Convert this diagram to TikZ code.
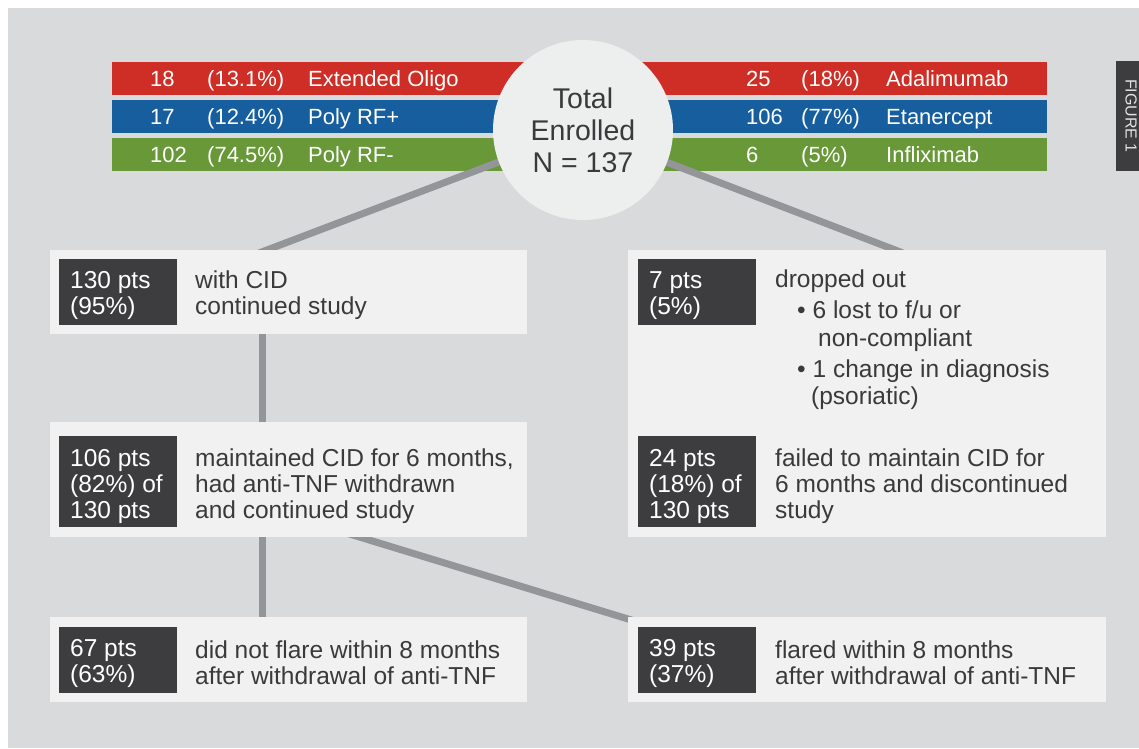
\documentclass[tikz,border=0pt]{standalone}
\usepackage{fontspec}
\setmainfont{Liberation Sans}
\definecolor{bgray}{RGB}{217,218,219}
\definecolor{boxfill}{RGB}{241,241,241}
\definecolor{darkbox}{RGB}{61,61,63}
\definecolor{cred}{RGB}{206,46,38}
\definecolor{cblue}{RGB}{22,94,158}
\definecolor{cgreen}{RGB}{104,152,56}
\definecolor{lineg}{RGB}{147,149,152}
\definecolor{txt}{RGB}{58,58,60}
\definecolor{circfill}{RGB}{237,238,238}
\pgfdeclarelayer{bg}
\pgfdeclarelayer{lines}
\pgfsetlayers{bg,lines,main}
\begin{document}
\begin{tikzpicture}[x=1pt,y=-1pt,
  bartext/.style={text=white,inner sep=0,anchor=base west,font=\fontsize{22}{26}\selectfont},
  lbox/.style={fill=boxfill,inner sep=0,outer sep=0,anchor=north west},
  dbox/.style={fill=darkbox,inner sep=0,outer sep=0,minimum width=118,anchor=north west},
  dtext/.style={text=white,inner sep=0,align=left,anchor=west,font=\fontsize{24.5}{26}\selectfont},
  mtext/.style={text=txt,inner sep=0,align=left,anchor=west,font=\fontsize{24.5}{26.3}\selectfont},
  ltext/.style={text=txt,inner sep=0,anchor=base west,font=\fontsize{24.5}{27}\selectfont},
  conn/.style={draw=lineg,line width=7pt}]
\useasboundingbox (0,0) rectangle (1139,748);
\begin{pgfonlayer}{bg}
\fill[white] (0,0) rectangle (1139,748);
\fill[bgray] (8,8) rectangle (1139,748);
\fill[cred] (112,62) rectangle (1047,95);
\fill[cblue] (112,99.5) rectangle (1047,133);
\fill[cgreen] (112,138) rectangle (1047,171);
\end{pgfonlayer}
% bar texts
\node[bartext] (r1) at (150,86) {18};
\node[bartext] (r2) at (207,86) {(13.1\%)};
\node[bartext] (r3) at (308,86) {Extended Oligo};
\node[bartext] (s1) at (150,124) {17};
\node[bartext] (s2) at (207,124) {(12.4\%)};
\node[bartext] (s3) at (308,124) {Poly RF+};
\node[bartext] (t1) at (150,162) {102};
\node[bartext] (t2) at (207,162) {(74.5\%)};
\node[bartext] (t3) at (308,162) {Poly RF-};
\node[bartext] (u1) at (746,86) {25};
\node[bartext] (u2) at (801,86) {(18\%)};
\node[bartext] (u3) at (886,86) {Adalimumab};
\node[bartext] (v1) at (746,124) {106};
\node[bartext] (v2) at (801,124) {(77\%)};
\node[bartext] (v3) at (886,124) {Etanercept};
\node[bartext] (w1) at (746,162) {6};
\node[bartext] (w2) at (801,162) {(5\%)};
\node[bartext] (w3) at (886,162) {Infliximab};
% circle
\node[circle,fill=circfill,minimum size=180,inner sep=0,text=txt,align=center,font=\fontsize{28.5}{32}\selectfont] (tot) at (583,130) {Total\\Enrolled\\N = 137};
% boxes
\node[lbox,minimum width=477,minimum height=84] (b1) at (50,250) {};
\node[lbox,minimum width=478,minimum height=287] (b2) at (628,250) {};
\node[lbox,minimum width=477,minimum height=115] (b3) at (50,422) {};
\node[lbox,minimum width=477,minimum height=85] (b4) at (50,617) {};
\node[lbox,minimum width=478,minimum height=85] (b5) at (628,617) {};
\node[dbox,minimum height=66] (d1) at (59,259) {};
\node[dbox,minimum height=66] (d2) at (638,259) {};
\node[dbox,minimum height=91] (d3) at (59,436) {};
\node[dbox,minimum height=91] (d4) at (638,436) {};
\node[dbox,minimum height=66] (d5) at (59,627) {};
\node[dbox,minimum height=66] (d6) at (638,627) {};
\node[dtext] (d1t) at ([xshift=11pt,yshift=-3.5pt]d1.west) {130 pts\\(95\%)};
\node[dtext] (d2t) at ([xshift=11pt,yshift=-3.5pt]d2.west) {7 pts\\(5\%)};
\node[dtext] (d3t) at ([xshift=11pt,yshift=-4.5pt]d3.west) {106 pts\\(82\%) of\\130 pts};
\node[dtext] (d4t) at ([xshift=11pt,yshift=-4.5pt]d4.west) {24 pts\\(18\%) of\\130 pts};
\node[dtext] (d5t) at ([xshift=11pt,yshift=-3.5pt]d5.west) {67 pts\\(63\%)};
\node[dtext] (d6t) at ([xshift=11pt,yshift=-3.5pt]d6.west) {39 pts\\(37\%)};
\node[mtext] (m1) at (195,295.5) {with CID\\continued study};
\node[mtext] (m3) at (195,486) {maintained CID for 6 months,\\had anti-TNF withdrawn\\and continued study};
\node[mtext] (m4) at (775,486) {failed to maintain CID for\\6 months and discontinued\\study};
\node[mtext] (m5) at (195,662.5) {did not flare within 8 months\\after withdrawal of anti-TNF};
\node[mtext] (m6) at (775,662.5) {flared within 8 months\\after withdrawal of anti-TNF};
\node[ltext] (o1) at (775,287) {dropped out};
\node[ltext] (o2) at (797,318) {• 6 lost to f/u or};
\node[ltext] (o3) at (818,346) {non-compliant};
\node[ltext] (o4) at (797,377) {• 1 change in diagnosis};
\node[ltext] (o5) at (811,404) {(psoriatic)};
% figure tab
\node[fill=darkbox,inner sep=0,minimum width=23,minimum height=110,anchor=north west] (tab) at (1116,61) {};
\node[rotate=-90,text=white!85!darkbox,inner sep=0,font=\fontsize{16}{19}\selectfont] (tabt) at (1131,116) {FIGURE 1};
% connectors
\begin{pgfonlayer}{lines}
\draw[conn] (tot.center) -- ([xshift=209pt,yshift=-3pt]b1.north west);
\draw[conn] (tot.center) -- ([xshift=275pt,yshift=-3pt]b2.north west);
\draw[conn] ([xshift=212pt,yshift=5pt]b1.south west) -- ([xshift=212pt,yshift=-5pt]b3.north west);
\draw[conn] ([xshift=212pt,yshift=5pt]b3.south west) -- ([xshift=212pt,yshift=-5pt]b4.north west);
\draw[conn] ([xshift=293pt,yshift=5pt]b3.south west) -- ([xshift=10pt,yshift=-5pt]b5.north west);
\end{pgfonlayer}
\end{tikzpicture}
\end{document}
